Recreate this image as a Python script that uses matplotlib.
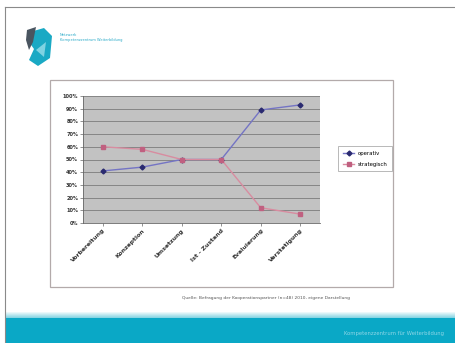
import matplotlib
matplotlib.use("Agg")
import matplotlib.pyplot as plt
from matplotlib.patches import Rectangle, Polygon

categories = ["Vorbereitung", "Konzeption", "Umsetzung", "Ist - Zustand", "Evaluierung", "Verstetigung"]
operativ = [41, 44, 50, 50, 89, 93]
strategisch = [60, 58, 50, 50, 12, 7]
series_names = ["operativ", "strategisch"]
yticks = list(range(0, 101, 10))
footer = "Quelle: Befragung der Kooperationspartner (n=48) 2010, eigene Darstellung"
bar_text = "Kompetenzzentrum für Weiterbildung"

W, H = 456, 343
fig = plt.figure(figsize=(W / 100, H / 100), dpi=100)
fig.patch.set_facecolor("white")

def fx(x): return x / W
def fy(y): return 1 - y / H

bg = fig.add_axes([0, 0, 1, 1])
bg.set_xlim(0, W); bg.set_ylim(H, 0); bg.axis("off")

# slide border
bg.plot([5, W], [7, 7], color="#8a8a8a", lw=0.8)
bg.plot([5, 5], [7, H], color="#8a8a8a", lw=0.8)

# bottom teal bar with light fade
bg.add_patch(Rectangle((5, 318), W - 5, 25, color="#0aa8c6", lw=0))
for i in range(6):
    bg.add_patch(Rectangle((5, 312 + i), W - 5, 1, color="#0aa8c6", alpha=0.08 * (i + 1), lw=0))
bg.text(444, 333, bar_text, fontsize=3.8, color="#8fd6e6", ha="right", va="center")

# logo
bg.add_patch(Polygon([[30, 32], [44, 28], [52, 36], [50, 58], [38, 66], [29, 60], [34, 49], [29, 42]],
                     closed=True, color="#1aa9c4", lw=0))
bg.add_patch(Polygon([[27, 30], [36, 27], [33, 42], [29, 50], [26, 40]], closed=True, color="#4a5560", lw=0))
bg.add_patch(Polygon([[36, 50], [46, 42], [44, 57]], closed=True, color="#7fd3e2", lw=0))
bg.text(60, 35, "Netzwerk", fontsize=2.6, color="#2aaac8", va="center")
bg.text(60, 40, "Kompetenzzentrum Weiterbildung", fontsize=2.6, color="#2aaac8", va="center")

# chart box
bg.add_patch(Rectangle((50, 80), 343, 207, facecolor="white", edgecolor="#b3aaaa", lw=0.9))

# footer
bg.text(350, 298, footer, fontsize=3.2, color="#555555", ha="right", va="center")

# plot area
ax = fig.add_axes([fx(83), fy(223), (320 - 83) / W, (223 - 96) / H])
ax.set_facecolor("#c2c2c2")
x = list(range(len(categories)))
ax.plot(x, operativ, color="#7474c4", lw=1.0, marker="D", ms=2.5,
        mfc="#2a2a70", mec="#2a2a70", label=series_names[0], zorder=3)
ax.plot(x, strategisch, color="#d88ca0", lw=1.0, marker="s", ms=2.2,
        mfc="#c06080", mec="#c06080", label=series_names[1], zorder=3)
ax.set_xlim(-0.5, len(categories) - 0.5)
ax.set_ylim(0, 100)
ax.set_yticks(yticks)
ax.set_yticklabels([f"{v}%" for v in yticks], fontsize=3.6, fontweight="bold")
ax.set_xticks(x)
ax.set_xticklabels(categories, rotation=45, ha="right", rotation_mode="anchor",
                   fontsize=4.4, fontweight="bold")
ax.grid(axis="y", color="#7c7c7c", lw=0.6)
ax.set_axisbelow(True)
for s in ["top", "right"]:
    ax.spines[s].set_visible(False)
ax.spines["left"].set_color("#666666"); ax.spines["left"].set_linewidth(0.6)
ax.spines["bottom"].set_color("#666666"); ax.spines["bottom"].set_linewidth(0.6)
ax.tick_params(axis="both", length=2, width=0.5, pad=1.5, colors="#666666")
for t in ax.get_yticklabels() + ax.get_xticklabels():
    t.set_color("#333333")

leg = ax.legend(loc="upper left", bbox_to_anchor=((335 - 83) / (320 - 83), 1 - (143 - 96) / (223 - 96)),
                fontsize=3.9, frameon=True, fancybox=False, edgecolor="#999999",
                handlelength=2.2, borderpad=0.9, labelspacing=1.1, handletextpad=0.6)
leg.get_frame().set_linewidth(0.6)

fig.savefig("out.png", dpi=100)
